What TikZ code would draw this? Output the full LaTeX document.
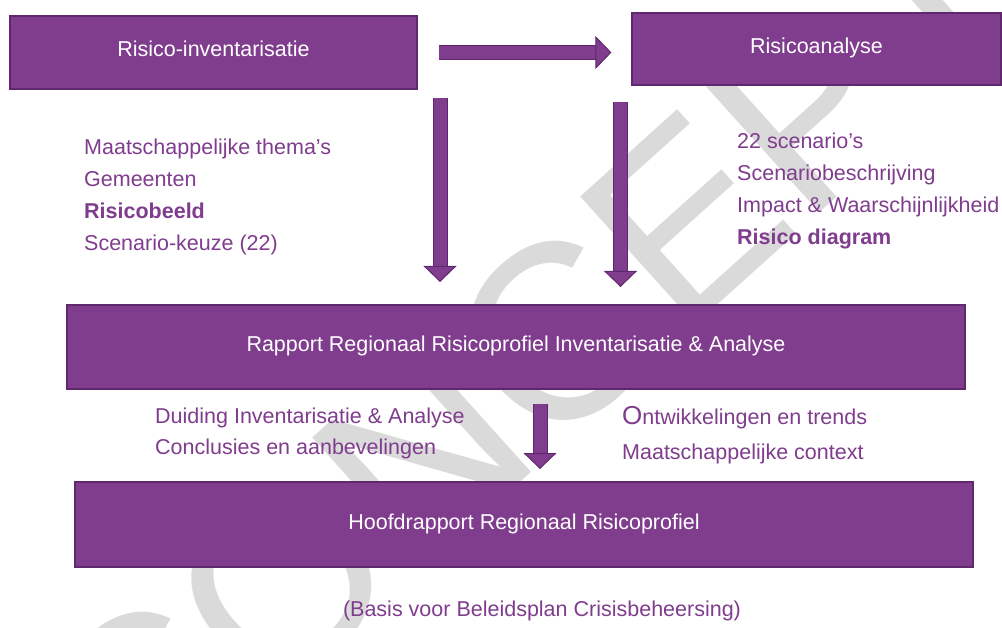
\documentclass[tikz,border=0pt]{standalone}
\usepackage{fontspec}
\setmainfont{Liberation Sans}
\usetikzlibrary{arrows.meta}

\definecolor{pfill}{RGB}{128,61,142}
\definecolor{pborder}{RGB}{96,40,108}
\definecolor{wmark}{RGB}{218,218,218}

\begin{document}
\begin{tikzpicture}[x=1pt,y=-1pt,
    box/.style={draw=pborder,line width=1.2pt,fill=pfill,text=white,inner sep=0pt,
        text height=16pt,text depth=7pt,font=\fontsize{21.5}{26}\selectfont},
    item/.style={anchor=base west,inner sep=0pt,text=pfill,font=\fontsize{21.5}{26}\selectfont},
    blockarrow/.style={draw=pborder,line width=1pt,double=pfill,double distance=13pt,
        -{Triangle[length=16pt,width=33pt,fill=pfill]}}]
    \fill[white] (0,0) rectangle (1002,628);
    \useasboundingbox (0,0) rectangle (1002,628);

    % watermark
    \node[rotate=42,text=wmark,inner sep=0pt,font=\fontsize{250}{250}\selectfont] (wm) at (530,358) {CONCEPT};

    \node[box,minimum width=407pt,minimum height=73pt] (inv) at (213.5,52.5) {Risico-inventarisatie};
    \node[box,minimum width=369pt,minimum height=72pt] (ana) at (816.5,49) {Risicoanalyse};
    \node[box,minimum width=898pt,minimum height=84pt] (rap) at (516,347) {Rapport Regionaal Risicoprofiel Inventarisatie \& Analyse};
    \node[box,minimum width=898pt,minimum height=85pt] (hoofd) at (524,524.5) {Hoofdrapport Regionaal Risicoprofiel};

    \node[item] (l1) at (84,155) {Maatschappelijke thema’s};
    \node[item] (l2) at (84,187) {Gemeenten};
    \node[item] (l3) at (84,219) {\bfseries Risicobeeld};
    \node[item] (l4) at (84,251) {Scenario-keuze (22)};

    \node[item] (r1) at (737,149) {22 scenario’s};
    \node[item] (r2) at (737,181) {Scenariobeschrijving};
    \node[item] (r3) at (737,213) {Impact \& Waarschijnlijkheid};
    \node[item] (r4) at (737,245) {\bfseries Risico diagram};

    \node[item] (d1) at (155,424) {Duiding Inventarisatie \& Analyse};
    \node[item] (d2) at (155,454) {Conclusies en aanbevelingen};
    \node[item] (o1) at (622,424.5) {{\fontsize{26}{26}\selectfont O}ntwikkelingen en trends};
    \node[item] (o2) at (622,459) {Maatschappelijke context};

    \node[item,anchor=base] (basis) at (542,616) {(Basis voor Beleidsplan Crisisbeheersing)};

    \coordinate (a1) at (440,98);
    \coordinate (a1e) at (440,282);
    \coordinate (a2) at (620.5,102);
    \coordinate (a2e) at (620.5,287);
    \coordinate (a3) at (540,404);
    \coordinate (a3e) at (540,469);

    \draw[blockarrow,shorten <=21pt,shorten >=20pt] (inv.east) -- (inv.east -| ana.west);
    \draw[blockarrow] (a1) -- (a1e);
    \draw[blockarrow] (a2) -- (a2e);
    \draw[blockarrow] (a3) -- (a3e);
\end{tikzpicture}
\end{document}
